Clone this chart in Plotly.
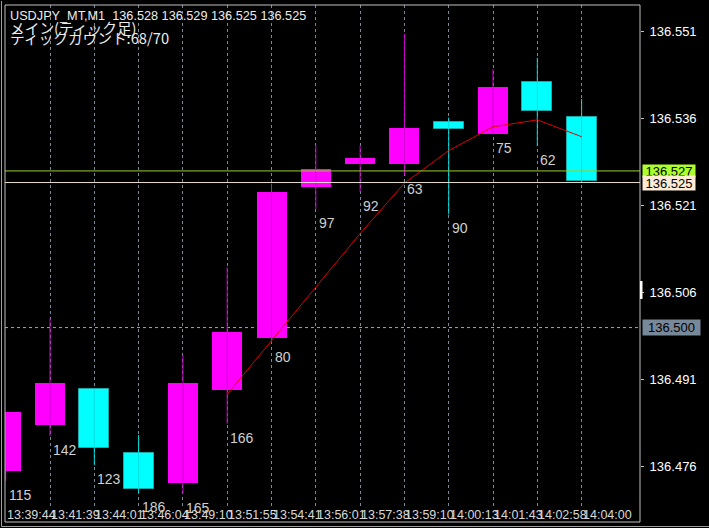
import plotly.graph_objects as go

# ---------------- data ----------------
times = ["13:39:44", "13:41:39", "13:44:01", "13:46:04", "13:49:10", "13:51:55", "13:54:41",
         "13:56:01", "13:57:38", "13:59:10", "14:00:13", "14:01:43", "14:02:58", "14:04:00"]
opens = [136.4752, 136.4832, 136.4894, 136.4783, 136.4732, 136.4892, 136.4982,
         136.5243, 136.5282, 136.5282, 136.5354, 136.5333, 136.5424, 136.5363]
highs = [136.4854, 136.5016, 136.4894, 136.4815, 136.4953, 136.5104, 136.5248,
         136.5314, 136.5314, 136.5506, 136.5362, 136.5445, 136.5465, 136.5394]
lows = [136.4736, 136.4813, 136.4763, 136.4715, 136.4713, 136.4834, 136.4974,
        136.5204, 136.5234, 136.5263, 136.5195, 136.5333, 136.5313, 136.5253]
closes = [136.4854, 136.4904, 136.4792, 136.4722, 136.4904, 136.4993, 136.5233,
          136.5273, 136.5293, 136.5344, 136.5342, 136.5414, 136.5373, 136.5253]
tick_counts = [115, 142, 123, 186, 165, 166, 80, 97, 92, 63, 90, 75, 62, None]
ma_values = [None, None, None, None, None, 136.4885, 136.4977, 136.5068, 136.5162,
             136.5249, 136.5305, 136.5346, 136.5358, 136.5329]
y_ticks = [136.476, 136.491, 136.506, 136.521, 136.536, 136.551]
ask_level = 136.527
bid_level = 136.525
alert_level = 136.500
header_line1 = "USDJPY_MT,M1  136.528 136.529 136.525 136.525"
header_line2 = "メイン(ティック足)"
header_line3 = "ティックカウント:68/70"

# ---------------- style ----------------
UP = "#ff00ff"
DOWN = "#00ffff"
UP_WICK = "#d000d0"
DOWN_WICK = "#00dede"
LATIN = "Liberation Sans, Arial, sans-serif"
CJK = "Noto Sans CJK JP, sans-serif"

xs = list(range(len(times)))
up_idx = [i for i in xs if closes[i] >= opens[i]]
dn_idx = [i for i in xs if closes[i] < opens[i]]


def wick_xy(idx):
    wx, wy = [], []
    for i in idx:
        wx += [i, i, None]
        wy += [lows[i], highs[i], None]
    return wx, wy


fig = go.Figure()
for idx, col in ((up_idx, UP_WICK), (dn_idx, DOWN_WICK)):
    wx, wy = wick_xy(idx)
    fig.add_trace(go.Scatter(x=wx, y=wy, mode="lines", line=dict(color=col, width=1),
                             hoverinfo="skip", showlegend=False))

fig.add_trace(go.Bar(x=up_idx, base=[opens[i] for i in up_idx],
                     y=[closes[i] - opens[i] for i in up_idx], width=0.677,
                     marker=dict(color=UP, line=dict(width=0)), showlegend=False))
fig.add_trace(go.Bar(x=dn_idx, base=[closes[i] for i in dn_idx],
                     y=[opens[i] - closes[i] for i in dn_idx], width=0.677,
                     marker=dict(color=DOWN, line=dict(width=1, color="#1aa8a8")),
                     showlegend=False))

fig.add_trace(go.Scatter(x=xs, y=ma_values, mode="lines", line=dict(color="#dd0000", width=1),
                         connectgaps=False, hoverinfo="skip", showlegend=False))

ann = []
# time labels
for i, t in enumerate(times):
    ann.append(dict(x=i, xref="x", y=0, yref="paper", yshift=-7, yanchor="middle",
                    xanchor="left", text=t, showarrow=False, borderpad=0,
                    font=dict(family=LATIN, size=12.5, color="#d8d8d8")))
# tick counts
for i, c in enumerate(tick_counts):
    if c is None:
        continue
    ann.append(dict(x=i, xref="x", y=lows[i], yref="y", yshift=-14, xshift=2,
                    yanchor="middle", xanchor="left", text=str(c), showarrow=False,
                    borderpad=0, font=dict(family=LATIN, size=14, color="#d0d0d0")))
# price tags
for lvl, bg, h, w in ((ask_level, "#adff2f", 12, 52), (bid_level, "#fdebd6", 14, 52),
                      (alert_level, "#778899", 15, 57)):
    ann.append(dict(x=1, xref="paper", xshift=2, y=lvl, yref="y", xanchor="left",
                    yanchor="middle", text=f"{lvl:.3f}", showarrow=False, bgcolor=bg,
                    borderpad=0, width=w, height=h, align="center", valign="middle",
                    font=dict(family=LATIN, size=13, color="#000000")))
# header
for txt, dy, fam, sz in ((header_line1, -11, LATIN, 12.7), (header_line2, -22.5, CJK, 14.7),
                         (header_line3, -32, CJK, 14.7)):
    ann.append(dict(x=0, xref="paper", xshift=4, y=1, yref="paper", yshift=dy,
                    xanchor="left", yanchor="middle", text=txt, showarrow=False,
                    borderpad=0, font=dict(family=fam, size=sz, color="#ececec")))

PW, PH = 635.0, 503.0
shapes = [
    # alert level line (below candles)
    dict(type="line", xref="paper", x0=0, x1=1, yref="y", y0=alert_level, y1=alert_level,
         line=dict(color="#a8a8a8", width=1, dash="dot"), layer="below"),
    # ask / bid lines
    dict(type="line", xref="paper", x0=0, x1=1, yref="y", y0=ask_level, y1=ask_level,
         line=dict(color="#9acd32", width=1), layer="above"),
    dict(type="line", xref="paper", x0=0, x1=1, yref="y", y0=bid_level, y1=bid_level,
         line=dict(color="#e6dccb", width=1), layer="above"),
    # inner frame
    dict(type="rect", xref="paper", yref="paper", x0=0, x1=1, y0=-14 / PH, y1=1,
         line=dict(color="#c0c0c0", width=1), layer="above"),
    # outer window lines
    dict(type="line", xref="paper", yref="paper", x0=-3.5 / PW, x1=-3.5 / PW,
         y0=-18.5 / PH, y1=1 + 4 / PH, line=dict(color="#a0a0a0", width=1)),
    dict(type="line", xref="paper", yref="paper", x0=-3.5 / PW, x1=1 + 69 / PW,
         y0=-18.5 / PH, y1=-18.5 / PH, line=dict(color="#a0a0a0", width=1)),
    # white marker on the price scale
    dict(type="rect", xref="paper", yref="paper", x0=1, x1=1 + 2.5 / PW,
         y0=(508 - 299) / PH, y1=(508 - 281) / PH, fillcolor="#ffffff",
         line=dict(width=0), layer="above"),
]

fig.update_layout(
    width=709, height=528,
    margin=dict(l=5, r=69, t=5, b=20),
    paper_bgcolor="#000000", plot_bgcolor="#000000",
    barmode="overlay", bargap=0,
    showlegend=False,
    annotations=ann, shapes=shapes,
    xaxis=dict(range=[-0.0158, 14.318], tickvals=xs, showticklabels=False,
               showgrid=True, gridcolor="#778899", griddash="dot", gridwidth=1,
               zeroline=False, showline=False, ticks="", fixedrange=True),
    yaxis=dict(range=[136.4689, 136.5556], side="right", tickvals=y_ticks,
               ticktext=[f"{v:.3f}" for v in y_ticks], ticks="outside", ticklen=3,
               tickcolor="#c0c0c0", showgrid=False, zeroline=False, showline=False,
               ticklabelstandoff=3,
               tickfont=dict(family=LATIN, size=13, color="#ffffff"), fixedrange=True),
)

fig.write_html(
    "out.html",
    config={"displayModeBar": False},
    post_script="document.body.style.margin='0';document.body.style.background='#000';"
                "document.documentElement.style.overflow='hidden';",
)
